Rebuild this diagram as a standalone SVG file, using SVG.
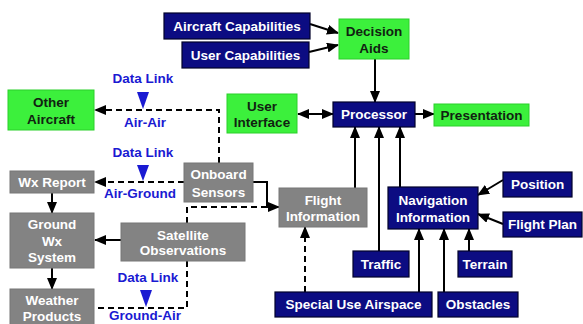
<svg xmlns="http://www.w3.org/2000/svg" width="583" height="324" viewBox="0 0 583 324">
<style>
text{font-family:"Liberation Sans",Arial,sans-serif;font-weight:bold;font-size:13.5px;text-anchor:middle}
.navy rect{fill:#0c0c82;stroke:#03032a;stroke-width:1.2}
.navy text{fill:#ffffff}
.green rect{fill:#3cf03c;stroke:#2ad02a;stroke-width:1}
.green text{fill:#112211}
.gray rect{fill:#838383;stroke:#777;stroke-width:1}
.gray text{fill:#ffffff}
.lbl text{fill:#1a1ad2}
.lbl polygon{fill:#1a1ad2}
.c{fill:none;stroke:#000;stroke-width:2}
.d{fill:none;stroke:#000;stroke-width:2;stroke-dasharray:6 4}
</style>
<defs>
<marker id="ah" markerUnits="userSpaceOnUse" markerWidth="12" markerHeight="10" refX="11" refY="5" orient="auto-start-reverse">
<path d="M0,0 L12,5 L0,10 Z" fill="#000"/>
</marker>
</defs>
<rect width="583" height="324" fill="#ffffff"/>
<g id="connectors">
<line class="c" x1="310" y1="24" x2="338" y2="33" marker-end="url(#ah)"/>
<line class="c" x1="309" y1="52" x2="338" y2="45" marker-end="url(#ah)"/>
<line class="c" x1="375" y1="59" x2="375" y2="102" marker-end="url(#ah)"/>
<line class="c" x1="298" y1="114" x2="333" y2="114" marker-start="url(#ah)" marker-end="url(#ah)"/>
<line class="c" x1="415" y1="114" x2="434" y2="114" marker-end="url(#ah)"/>
<line class="c" x1="355" y1="188" x2="355" y2="127" marker-end="url(#ah)"/>
<line class="c" x1="379" y1="251" x2="379" y2="127" marker-end="url(#ah)"/>
<line class="c" x1="400" y1="187" x2="400" y2="127" marker-end="url(#ah)"/>
<line class="c" x1="503" y1="180" x2="478" y2="195" marker-end="url(#ah)"/>
<line class="c" x1="503" y1="224" x2="478" y2="214" marker-end="url(#ah)"/>
<line class="c" x1="469" y1="251" x2="469" y2="229" marker-end="url(#ah)"/>
<line class="c" x1="419" y1="292" x2="419" y2="229" marker-end="url(#ah)"/>
<line class="c" x1="444" y1="292" x2="444" y2="229" marker-end="url(#ah)"/>
<line class="d" x1="305" y1="292" x2="305" y2="227" marker-end="url(#ah)"/>
<path class="c" d="M253,182 H267 V207 H279" marker-end="url(#ah)"/>
<path class="d" d="M187,223 V207 H267"/>
<path class="d" d="M219,163 V110 H95" marker-end="url(#ah)"/>
<line class="d" x1="184" y1="182" x2="95" y2="182" marker-end="url(#ah)"/>
<line class="c" x1="52" y1="193" x2="52" y2="213" marker-end="url(#ah)"/>
<line class="c" x1="121" y1="240" x2="95" y2="240" marker-end="url(#ah)"/>
<line class="c" x1="52" y1="268" x2="52" y2="289" marker-end="url(#ah)"/>
<path class="d" d="M187,261 V308 H95"/>
</g>
<g id="aircraft-capabilities" class="navy"><rect x="164" y="13" width="146" height="26"/><text x="237" y="31">Aircraft Capabilities</text></g>
<g id="user-capabilities" class="navy"><rect x="182" y="42" width="127" height="26"/><text x="245.5" y="60">User Capabilities</text></g>
<g id="processor" class="navy"><rect x="333" y="102" width="82" height="25"/><text x="374" y="119">Processor</text></g>
<g id="navigation-information" class="navy"><rect x="388" y="187" width="90" height="42"/><text x="433" y="205">Navigation</text><text x="433" y="222">Information</text></g>
<g id="position" class="navy"><rect x="503" y="172" width="69" height="25"/><text x="537.5" y="189">Position</text></g>
<g id="flight-plan" class="navy"><rect x="503" y="212" width="79" height="25"/><text x="542.5" y="229">Flight Plan</text></g>
<g id="traffic" class="navy"><rect x="353" y="251" width="56" height="26"/><text x="381" y="269">Traffic</text></g>
<g id="terrain" class="navy"><rect x="458" y="251" width="54" height="26"/><text x="485" y="269">Terrain</text></g>
<g id="special-use-airspace" class="navy"><rect x="275" y="292" width="157" height="25"/><text x="353.5" y="309">Special Use Airspace</text></g>
<g id="obstacles" class="navy"><rect x="438" y="292" width="80" height="25"/><text x="478" y="309">Obstacles</text></g>
<g id="decision-aids" class="green"><rect x="339" y="19" width="70" height="40"/><text x="374" y="36">Decision</text><text x="374" y="53">Aids</text></g>
<g id="user-interface" class="green"><rect x="227" y="94" width="70" height="39"/><text x="262" y="111">User</text><text x="262" y="127">Interface</text></g>
<g id="presentation" class="green"><rect x="434" y="104" width="95" height="22"/><text x="481.5" y="120">Presentation</text></g>
<g id="other-aircraft" class="green"><rect x="8" y="90" width="86" height="40"/><text x="51" y="107">Other</text><text x="51" y="124">Aircraft</text></g>
<g id="wx-report" class="gray"><rect x="10" y="171" width="84" height="22"/><text x="52" y="187">Wx Report</text></g>
<g id="onboard-sensors" class="gray"><rect x="184" y="163" width="69" height="39"/><text x="218.5" y="179">Onboard</text><text x="218.5" y="197">Sensors</text></g>
<g id="ground-wx-system" class="gray"><rect x="10" y="213" width="84" height="55"/><text x="52" y="229">Ground</text><text x="52" y="246">Wx</text><text x="52" y="262">System</text></g>
<g id="satellite-observations" class="gray"><rect x="121" y="223" width="124" height="38"/><text x="183" y="240">Satellite</text><text x="183" y="255">Observations</text></g>
<g id="weather-products" class="gray"><rect x="10" y="289" width="84" height="36"/><text x="52" y="305">Weather</text><text x="52" y="321">Products</text></g>
<g id="flight-information" class="gray"><rect x="279" y="188" width="88" height="39"/><text x="323" y="205">Flight</text><text x="323" y="221">Information</text></g>
<g id="label-air-air" class="lbl"><text x="143" y="83">Data Link</text><polygon points="137,92 149,92 143,109"/><text x="145" y="127">Air-Air</text></g>
<g id="label-air-ground" class="lbl"><text x="143" y="157">Data Link</text><polygon points="137,165 149,165 143,181"/><text x="140" y="198">Air-Ground</text></g>
<g id="label-ground-air" class="lbl"><text x="148" y="282">Data Link</text><polygon points="140,290 152,290 146,307"/><text x="145" y="320">Ground-Air</text></g>
</svg>
